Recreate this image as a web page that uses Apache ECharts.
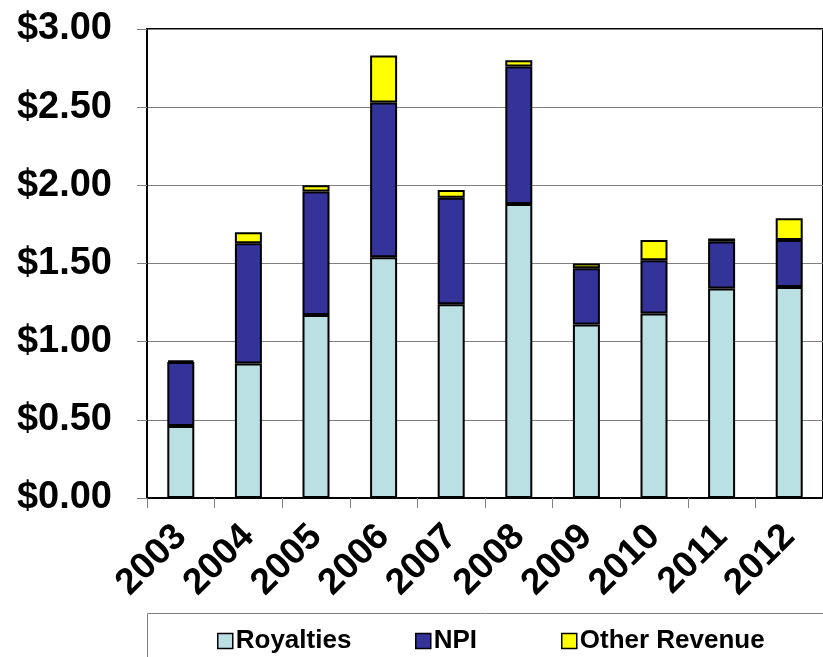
<!DOCTYPE html>
<html>
<head>
<meta charset="utf-8">
<script src="https://cdn.jsdelivr.net/npm/echarts@6/dist/echarts.min.js"></script>
<style>html,body{margin:0;padding:0;background:#fff;}#c{width:823px;height:657px;}</style>
</head>
<body>
<div id="c"></div>
<script>
var years = ['2003','2004','2005','2006','2007','2008','2009','2010','2011','2012'];
var royalties = [0.46, 0.86, 1.17, 1.54, 1.24, 1.88, 1.11, 1.18, 1.34, 1.35];
var npi       = [0.41, 0.77, 0.79, 0.99, 0.68, 0.88, 0.36, 0.34, 0.30, 0.30];
var other     = [0.01, 0.07, 0.04, 0.30, 0.05, 0.04, 0.03, 0.13, 0.02, 0.14];
var yTicks = [0, 0.5, 1.0, 1.5, 2.0, 2.5, 3.0];

var FONT = '"Liberation Sans", Arial, sans-serif';
var chart = echarts.init(document.getElementById('c'), null, {renderer: 'canvas'});

function barSeries(name, data, color) {
  return {
    name: name, type: 'bar', stack: 'total', data: data,
    barWidth: 27,
    itemStyle: {color: color, borderColor: '#000', borderWidth: 2},
    emphasis: {disabled: true}
  };
}
function legendAt(name, left) {
  return {
    data: [name], left: left, top: 623, orient: 'horizontal',
    itemWidth: 15, itemHeight: 15, itemGap: 0,
    icon: 'rect',
    itemStyle: {borderColor: '#000', borderWidth: 1.5},
    textStyle: {fontFamily: FONT, fontWeight: 'bold', fontSize: 26, color: '#000', padding: [0,0,0,-2]},
    selectedMode: false
  };
}

chart.setOption({
  animation: false,
  backgroundColor: '#fff',
  grid: {left: 147, top: 29, right: -4, bottom: 159, show: true, borderColor: '#000', borderWidth: 2, containLabel: false},
  legend: [legendAt('Royalties', 212), legendAt('NPI', 410), legendAt('Other Revenue', 556)],
  graphic: [{
    type: 'rect', shape: {x: 147.5, y: 613.5, width: 700, height: 60},
    style: {fill: 'none', stroke: '#808080', lineWidth: 1}, silent: true, z: -1
  }],
  xAxis: {
    type: 'category', data: years,
    axisLine: {lineStyle: {color: '#000', width: 2}},
    axisTick: {show: true, interval: 0, length: 10, lineStyle: {color: '#808080'}},
    axisLabel: {interval: 0, hideOverlap: false, rotate: 45, margin: 33, fontFamily: FONT, fontWeight: 'bold', fontSize: 37, color: '#000'}
  },
  yAxis: {
    type: 'value', min: 0, max: 3, interval: 0.5,
    axisLine: {show: true, lineStyle: {color: '#000', width: 2}},
    axisTick: {show: true, length: 10, lineStyle: {color: '#808080'}},
    splitLine: {lineStyle: {color: '#808080', width: 1}},
    axisLabel: {margin: 35, fontFamily: FONT, fontWeight: 'bold', fontSize: 38, color: '#000',
      formatter: function (v) { return '$' + v.toFixed(2); }}
  },
  series: [
    barSeries('Royalties', royalties, '#BBE0E3'),
    barSeries('NPI', npi, '#333399'),
    barSeries('Other Revenue', other, '#FFFF00')
  ]
});
</script>
</body>
</html>
